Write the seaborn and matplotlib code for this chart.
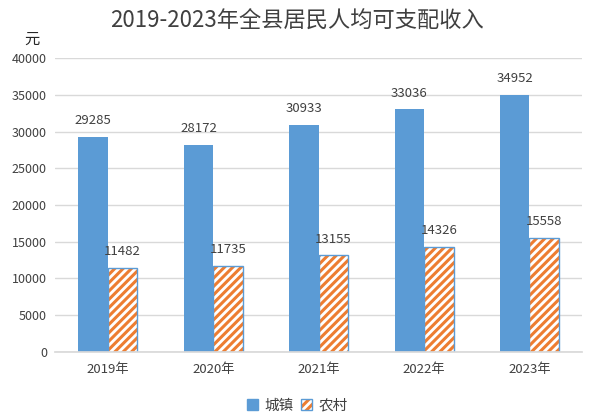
import matplotlib
matplotlib.use("Agg")
import matplotlib.pyplot as plt
from matplotlib.patches import Patch, Rectangle
from matplotlib.legend_handler import HandlerTuple
import seaborn as sns
import pandas as pd

years = ["2019年", "2020年", "2021年", "2022年", "2023年"]
urban = [29285, 28172, 30933, 33036, 34952]
rural = [11482, 11735, 13155, 14326, 15558]
series = ["城镇", "农村"]

blue = "#5B9BD5"
orange = "#ED7D31"
txt = "#404040"

sns.set_theme(style="white")
plt.rcParams["font.family"] = ["Noto Sans CJK SC", "DejaVu Sans"]
plt.rcParams["hatch.linewidth"] = 2.2

df = pd.DataFrame({
    "year": years * 2,
    "value": urban + rural,
    "kind": [series[0]] * len(years) + [series[1]] * len(years),
})

fig = plt.figure(figsize=(5.94, 4.18), dpi=100)
ax = fig.add_axes([0.093, 0.158, 0.887, 0.703])

sns.barplot(data=df, x="year", y="value", hue="kind", palette=[blue, orange],
            width=0.56, gap=0, legend=False, ax=ax, saturation=1, linewidth=0)

# rural bars: white with orange hatch, blue outline
for p in ax.containers[1]:
    p.set_facecolor("white")
    p.set_edgecolor(orange)
    p.set_hatch("////")
    p.set_linewidth(0)
    ax.add_patch(Rectangle((p.get_x(), p.get_y()), p.get_width(), p.get_height(),
                           fill=False, edgecolor=blue, linewidth=1))

for c in ax.containers:
    ax.bar_label(c, labels=[f"{int(v)}" for v in c.datavalues], padding=7,
                 fontsize=9.5, color=txt)

ax.set_ylim(0, 40000)
ax.set_yticks(range(0, 40001, 5000))
ax.set_xlim(-0.5, len(years) - 0.5)
ax.grid(axis="y", color="#D9D9D9", linewidth=1)
ax.set_axisbelow(True)
for s in ["top", "right", "left"]:
    ax.spines[s].set_visible(False)
ax.spines["bottom"].set_color("#D9D9D9")
ax.set_xlabel("")
ax.set_ylabel("")
ax.tick_params(axis="y", length=0, labelsize=9, labelcolor=txt, pad=6)
ax.tick_params(axis="x", length=0, labelsize=9.5, labelcolor=txt, pad=8)
ax.set_xticks([i - 0.5 for i in range(len(years) + 1)], minor=True)
ax.tick_params(axis="x", which="minor", length=4, color="#D9D9D9", width=1)

fig.text(0.5, 0.948, "2019-2023年全县居民人均可支配收入", ha="center", va="center",
         fontsize=16, color=txt)
fig.text(0.054, 0.905, "元", ha="center", va="center", fontsize=11, color="#262626")

h1 = Patch(facecolor=blue, edgecolor=blue)
h2a = Patch(facecolor="white", edgecolor=orange, hatch="////", linewidth=0)
h2b = Patch(fill=False, edgecolor=blue, linewidth=1)
fig.legend([h1, (h2a, h2b)], series, loc="center", bbox_to_anchor=(0.5, 0.03),
           ncol=2, frameon=False, handlelength=0.8, handleheight=0.8,
           handletextpad=0.4, columnspacing=0.5, fontsize=10.5, labelcolor=txt,
           handler_map={tuple: HandlerTuple(ndivide=1, pad=0)})

fig.savefig("out.png", dpi=100)
